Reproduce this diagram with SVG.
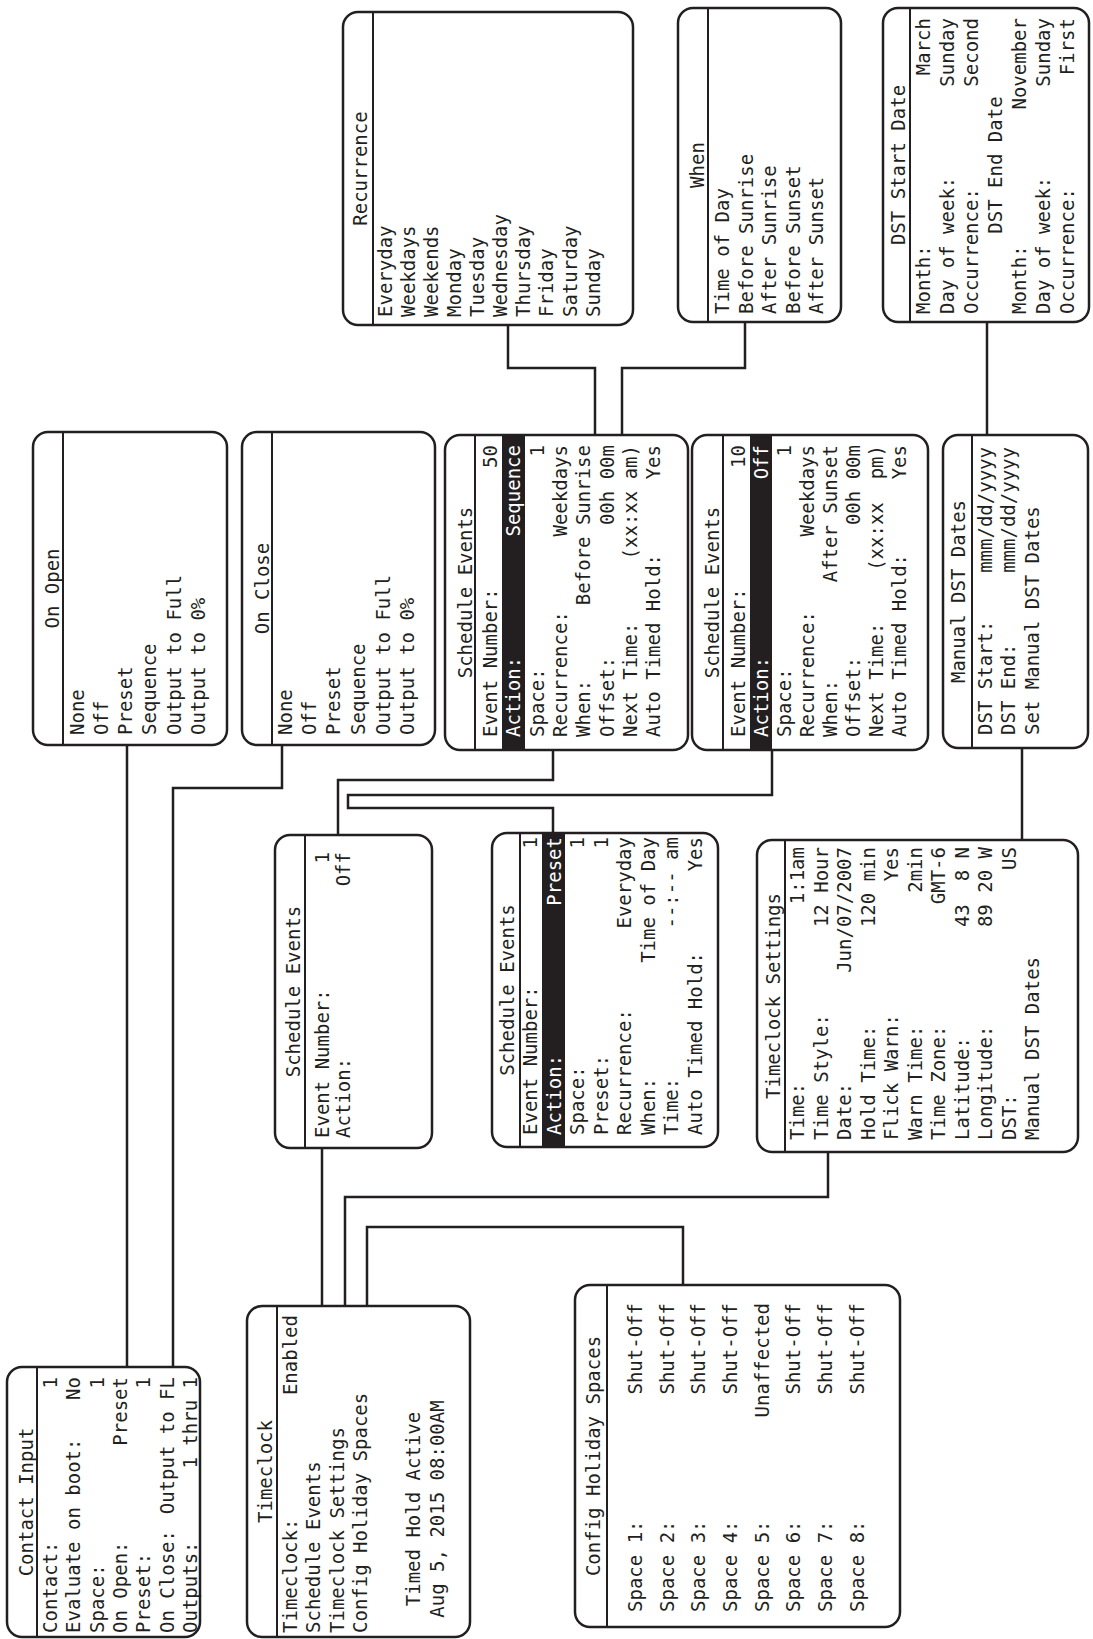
<svg xmlns="http://www.w3.org/2000/svg" width="1093" height="1639" viewBox="0 0 1093 1639">
<style>
.b{fill:#fff;stroke:#231f20;stroke-width:2.5}
.d{stroke:#231f20;stroke-width:2}
.c{fill:none;stroke:#231f20;stroke-width:2.5}
.bar{fill:#231f20}
text{font-family:"DejaVu Sans Mono","Liberation Mono",monospace;font-size:19px;fill:#231f20;white-space:pre}
.r{text-anchor:end}
.m{text-anchor:middle}
.w{fill:#fff}
</style>
<rect width="1093" height="1639" fill="#fff"/>
<g transform="matrix(0,-1,1,0,0,1639)">
<g id="connectors">
<path class="c" d="M894,127H272"/>
<path class="c" d="M894,282H851V173H272"/>
<path class="c" d="M889,553H859V338H804"/>
<path class="c" d="M889,772H844V348H831V553H806"/>
<path class="c" d="M333,322H491"/>
<path class="c" d="M333,345H442V828H487"/>
<path class="c" d="M333,367H412V683H354"/>
<path class="c" d="M1314,508H1271V595H1204"/>
<path class="c" d="M1317,745H1271V622H1204"/>
<path class="c" d="M1317,987H1204"/>
<path class="c" d="M891,1022H799"/>
</g>
<g id="contact-input">
<rect class="b" x="2" y="7" width="270" height="193" rx="15"/>
<line class="d" x1="2" y1="37" x2="272" y2="37"/>
<text class="m" x="137" y="33">Contact Input</text>
<text x="6" y="57">Contact:</text><text class="r" x="262" y="57">1</text>
<text x="6" y="80.3">Evaluate on boot:</text><text class="r" x="262" y="80.3">No</text>
<text x="6" y="103.6">Space:</text><text class="r" x="262" y="103.6">1</text>
<text x="6" y="126.9">On Open:</text><text class="r" x="262" y="126.9">Preset</text>
<text x="6" y="150.2">Preset:</text><text class="r" x="262" y="150.2">1</text>
<text x="6" y="173.5">On Close:</text><text class="r" x="262" y="173.5">Output to FL</text>
<text x="6" y="196.8">Outputs:</text><text class="r" x="262" y="196.8">1 thru 1</text>
</g>
<g id="timeclock">
<rect class="b" x="2" y="247" width="331" height="223" rx="15"/>
<line class="d" x1="2" y1="277" x2="333" y2="277"/>
<text class="m" x="167.5" y="272">Timeclock</text>
<text x="6" y="297">Timeclock:</text><text class="r" x="324" y="297">Enabled</text>
<text x="6" y="320">Schedule Events</text>
<text x="6" y="344">Timeclock Settings</text>
<text x="6" y="367">Config Holiday Spaces</text>
<text class="m" x="130" y="420">Timed Hold Active</text>
<text class="m" x="130" y="444">Aug 5, 2015 08:00AM</text>
</g>
<g id="config-holiday-spaces">
<rect class="b" x="12" y="575" width="342" height="325" rx="15"/>
<line class="d" x1="12" y1="607" x2="354" y2="607"/>
<text class="m" x="183" y="600">Config Holiday Spaces</text>
<text x="27" y="642">Space 1:</text><text class="r" x="336" y="642">Shut-Off</text>
<text x="27" y="674">Space 2:</text><text class="r" x="336" y="674">Shut-Off</text>
<text x="27" y="705">Space 3:</text><text class="r" x="336" y="705">Shut-Off</text>
<text x="27" y="737">Space 4:</text><text class="r" x="336" y="737">Shut-Off</text>
<text x="27" y="769">Space 5:</text><text class="r" x="336" y="769">Unaffected</text>
<text x="27" y="800">Space 6:</text><text class="r" x="336" y="800">Shut-Off</text>
<text x="27" y="832">Space 7:</text><text class="r" x="336" y="832">Shut-Off</text>
<text x="27" y="864">Space 8:</text><text class="r" x="336" y="864">Shut-Off</text>
</g>
<g id="schedule-events-1">
<rect class="b" x="491" y="275" width="313" height="157" rx="15"/>
<line class="d" x1="491" y1="305" x2="804" y2="305"/>
<text class="m" x="647.5" y="300">Schedule Events</text>
<text x="501" y="329">Event Number:</text><text class="r" x="787" y="329">1</text>
<text x="501" y="350">Action:</text><text class="r" x="787" y="350">Off</text>
</g>
<g id="schedule-events-preset">
<rect class="b" x="492" y="492" width="314" height="226" rx="15"/>
<line class="d" x1="492" y1="520" x2="806" y2="520"/>
<rect class="bar" x="493" y="542" width="312" height="23"/>
<text class="m" x="649" y="514">Schedule Events</text>
<text x="504" y="537">Event Number:</text><text class="r" x="802" y="537">1</text>
<text class="w" x="504" y="560.5">Action:</text><text class="r w" x="802" y="560.5">Preset</text>
<text x="504" y="584">Space:</text><text class="r" x="802" y="584">1</text>
<text x="504" y="607.5">Preset:</text><text class="r" x="802" y="607.5">1</text>
<text x="504" y="631">Recurrence:</text><text class="r" x="802" y="631">Everyday</text>
<text x="504" y="654.5">When:</text><text class="r" x="802" y="654.5">Time of Day</text>
<text x="504" y="678">Time:</text><text class="r" x="802" y="678">--:-- am</text>
<text x="504" y="701.5">Auto Timed Hold:</text><text class="r" x="802" y="701.5">Yes</text>
</g>
<g id="timeclock-settings">
<rect class="b" x="487" y="757" width="312" height="321" rx="15"/>
<line class="d" x1="487" y1="785" x2="799" y2="785"/>
<text class="m" x="643" y="780">Timeclock Settings</text>
<text x="499" y="804">Time:</text><text class="r" x="792" y="804">1:1am</text>
<text x="499" y="827.5">Time Style:</text><text class="r" x="792" y="827.5">12 Hour</text>
<text x="499" y="851">Date:</text><text class="r" x="792" y="851">Jun/07/2007</text>
<text x="499" y="874.5">Hold Time:</text><text class="r" x="792" y="874.5">120 min</text>
<text x="499" y="898">Flick Warn:</text><text class="r" x="792" y="898">Yes</text>
<text x="499" y="921.5">Warn Time:</text><text class="r" x="792" y="921.5">2min</text>
<text x="499" y="945">Time Zone:</text><text class="r" x="792" y="945">GMT-6</text>
<text x="499" y="968.5">Latitude:</text><text class="r" x="792" y="968.5" xml:space="preserve">43  8 N</text>
<text x="499" y="992">Longitude:</text><text class="r" x="792" y="992">89 20 W</text>
<text x="499" y="1015.5">DST:</text><text class="r" x="792" y="1015.5">US</text>
<text x="499" y="1039">Manual DST Dates</text>
</g>
<g id="on-open">
<rect class="b" x="894" y="33" width="313" height="194" rx="15"/>
<line class="d" x1="894" y1="63" x2="1207" y2="63"/>
<text class="m" x="1050.5" y="59">On Open</text>
<text x="904" y="84">None</text>
<text x="904" y="108">Off</text>
<text x="904" y="132">Preset</text>
<text x="904" y="156">Sequence</text>
<text x="904" y="181">Output to Full</text>
<text x="904" y="205">Output to 0%</text>
</g>
<g id="on-close">
<rect class="b" x="894" y="242" width="313" height="193" rx="15"/>
<line class="d" x1="894" y1="272" x2="1207" y2="272"/>
<text class="m" x="1050.5" y="269">On Close</text>
<text x="904" y="292">None</text>
<text x="904" y="316">Off</text>
<text x="904" y="340">Preset</text>
<text x="904" y="365">Sequence</text>
<text x="904" y="390">Output to Full</text>
<text x="904" y="414">Output to 0%</text>
</g>
<g id="schedule-events-sequence">
<rect class="b" x="889" y="445" width="315" height="243" rx="15"/>
<line class="d" x1="889" y1="475" x2="1204" y2="475"/>
<rect class="bar" x="890" y="502" width="313" height="23"/>
<text class="m" x="1046.5" y="472">Schedule Events</text>
<text x="902" y="497">Event Number:</text><text class="r" x="1194" y="497">50</text>
<text class="w" x="902" y="520">Action:</text><text class="r w" x="1194" y="520">Sequence</text>
<text x="902" y="543.5">Space:</text><text class="r" x="1194" y="543.5">1</text>
<text x="902" y="567">Recurrence:</text><text class="r" x="1194" y="567">Weekdays</text>
<text x="902" y="590">When:</text><text class="r" x="1194" y="590">Before Sunrise</text>
<text x="902" y="613.5">Offset:</text><text class="r" x="1194" y="613.5">00h 00m</text>
<text x="902" y="637">Next Time:</text><text class="r" x="1194" y="637">(xx:xx am)</text>
<text x="902" y="660">Auto Timed Hold:</text><text class="r" x="1194" y="660">Yes</text>
</g>
<g id="schedule-events-off">
<rect class="b" x="889" y="692" width="315" height="236" rx="15"/>
<line class="d" x1="889" y1="723" x2="1204" y2="723"/>
<rect class="bar" x="890" y="750" width="313" height="22"/>
<text class="m" x="1046.5" y="719">Schedule Events</text>
<text x="902" y="745">Event Number:</text><text class="r" x="1194" y="745">10</text>
<text class="w" x="902" y="768">Action:</text><text class="r w" x="1194" y="768">Off</text>
<text x="902" y="791">Space:</text><text class="r" x="1194" y="791">1</text>
<text x="902" y="814">Recurrence:</text><text class="r" x="1194" y="814">Weekdays</text>
<text x="902" y="837">When:</text><text class="r" x="1194" y="837">After Sunset</text>
<text x="902" y="860">Offset:</text><text class="r" x="1194" y="860">00h 00m</text>
<text x="902" y="883">Next Time:</text><text class="r" x="1194" y="883" xml:space="preserve">(xx:xx  pm)</text>
<text x="902" y="906">Auto Timed Hold:</text><text class="r" x="1194" y="906">Yes</text>
</g>
<g id="manual-dst-dates">
<rect class="b" x="891" y="943" width="313" height="145" rx="15"/>
<line class="d" x1="891" y1="972" x2="1204" y2="972"/>
<text class="m" x="1047.5" y="965">Manual DST Dates</text>
<text x="904" y="992">DST Start:</text><text class="r" x="1192" y="992">mmm/dd/yyyy</text>
<text x="904" y="1015">DST End:</text><text class="r" x="1192" y="1015">mmm/dd/yyyy</text>
<text x="904" y="1039">Set Manual DST Dates</text>
</g>
<g id="recurrence">
<rect class="b" x="1314" y="343" width="313" height="290" rx="15"/>
<line class="d" x1="1314" y1="373" x2="1627" y2="373"/>
<text class="m" x="1470.5" y="367">Recurrence</text>
<text x="1322" y="392">Everyday</text>
<text x="1322" y="415">Weekdays</text>
<text x="1322" y="438">Weekends</text>
<text x="1322" y="461">Monday</text>
<text x="1322" y="484">Tuesday</text>
<text x="1322" y="507">Wednesday</text>
<text x="1322" y="530">Thursday</text>
<text x="1322" y="553">Friday</text>
<text x="1322" y="577">Saturday</text>
<text x="1322" y="600">Sunday</text>
</g>
<g id="when">
<rect class="b" x="1317" y="678" width="314" height="163" rx="15"/>
<line class="d" x1="1317" y1="708" x2="1631" y2="708"/>
<text class="m" x="1474" y="704">When</text>
<text x="1325" y="729">Time of Day</text>
<text x="1325" y="752.5">Before Sunrise</text>
<text x="1325" y="776">After Sunrise</text>
<text x="1325" y="799.5">Before Sunset</text>
<text x="1325" y="823">After Sunset</text>
</g>
<g id="dst-start-date">
<rect class="b" x="1317" y="883" width="314" height="206" rx="15"/>
<line class="d" x1="1317" y1="910" x2="1631" y2="910"/>
<text class="m" x="1474" y="905">DST Start Date</text>
<text x="1325" y="930">Month:</text><text class="r" x="1621" y="930">March</text>
<text x="1325" y="954">Day of week:</text><text class="r" x="1621" y="954">Sunday</text>
<text x="1325" y="978">Occurrence:</text><text class="r" x="1621" y="978">Second</text>
<text class="m" x="1474" y="1002">DST End Date</text>
<text x="1325" y="1026">Month:</text><text class="r" x="1621" y="1026">November</text>
<text x="1325" y="1050">Day of week:</text><text class="r" x="1621" y="1050">Sunday</text>
<text x="1325" y="1074">Occurrence:</text><text class="r" x="1621" y="1074">First</text>
</g>
</g>
</svg>
